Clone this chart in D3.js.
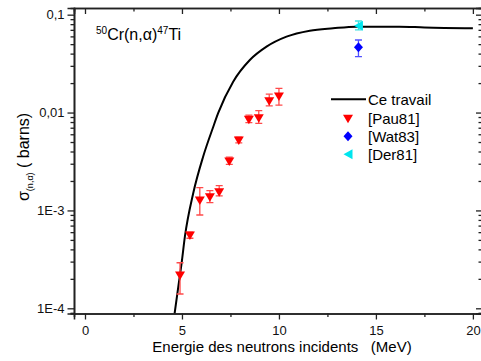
<!DOCTYPE html>
<html>
<head>
<meta charset="utf-8">
<script src="https://cdn.jsdelivr.net/npm/d3@7"></script>
<style>
  body { margin: 0; background: #fff; }
  svg { display: block; font-family: Arial, "Liberation Sans", sans-serif; }
</style>
</head>
<body>
<div id="chart"></div>
<script>
// "Ce travail" calculated excitation function
const curveEnergy = [4.62, 4.81, 4.98, 5.15, 5.58, 6.09, 6.61, 6.87, 7.64, 8.5, 9.36, 10.39, 11.59, 12.79, 14.0, 16.2, 17.5, 20];
const curveSigma = [8.85e-5, 1.66e-4, 2.88e-4, 5.39e-4, 1.5e-3, 3.54e-3, 7.12e-3, 9.9e-3, 2.066e-2, 3.44e-2, 4.71e-2, 5.96e-2, 6.86e-2, 7.26e-2, 7.54e-2, 7.54e-2, 7.4e-2, 7.26e-2];

// [Pau81]
const pauEnergy = [4.9, 5.41, 5.92, 6.44, 6.92, 7.44, 7.93, 8.45, 8.96, 9.5, 10.0];
const pauSigma = [2.19e-4, 5.61e-4, 1.28e-3, 1.38e-3, 1.55e-3, 3.2e-3, 5.25e-3, 8.53e-3, 8.86e-3, 1.32e-2, 1.48e-2];
const pauHigh = [2.92e-4, 6.0e-4, 1.71e-3, 1.59e-3, 1.79e-3, 3.5e-3, 5.6e-3, 9.4e-3, 1.045e-2, 1.54e-2, 1.77e-2];
const pauLow = [1.4e-4, 5.2e-4, 8.98e-4, 1.2e-3, 1.41e-3, 2.95e-3, 4.9e-3, 7.9e-3, 7.77e-3, 1.17e-2, 1.19e-2];

// [Wat83]
const watEnergy = [14.1];
const watSigma = [0.0464];
const watHigh = [0.0551];
const watLow = [0.0372];

// [Der81]
const derEnergy = [14.1];
const derSigma = [0.0772];
const derHigh = [0.0862];
const derLow = [0.0698];

const xMajor = [0, 5, 10, 15, 20];
const xMinor = [2.5, 7.5, 12.5, 17.5];
const yMajor = [1e-4, 1e-3, 1e-2, 1e-1];
const yLabels = ["1E-4", "1E-3", "0,01", "0,1"];

const width = 481, height = 361;
const plotLeft = 74, plotRight = 482, plotTop = 8, plotBottom = 313.5;

const svg = d3.select("#chart").append("svg")
    .attr("width", width)
    .attr("height", height);

const x = d3.scaleLinear().domain([-0.567, 20.47]).range([plotLeft, plotRight]);
const y = d3.scaleLog().domain([8.85e-5, 0.117]).range([plotBottom, plotTop]);

let yMinor = [];
for (let dec of [1e-4, 1e-3, 1e-2]) {
    for (let k = 2; k <= 9; k++) yMinor.push(dec * k);
}
yMinor.push(9e-5);

svg.append("defs").append("clipPath").attr("id", "clip")
    .append("rect")
    .attr("x", plotLeft).attr("y", plotTop)
    .attr("width", plotRight - plotLeft).attr("height", plotBottom - plotTop);

const axisColor = "#222";

function styleAxis(g) {
    g.select(".domain").attr("stroke", axisColor).attr("stroke-width", 1.6);
    g.selectAll(".tick line").attr("stroke", axisColor).attr("stroke-width", 1.3);
    g.selectAll(".tick text").attr("fill", "#111").style("font-size", "13px");
}

// bottom
svg.append("g")
    .attr("transform", `translate(0,${plotBottom})`)
    .call(d3.axisBottom(x).tickValues(xMajor).tickSize(6).tickPadding(6).tickFormat(d3.format("d")))
    .call(styleAxis);
svg.append("g")
    .attr("transform", `translate(0,${plotBottom})`)
    .call(d3.axisBottom(x).tickValues(xMinor).tickSize(3.5).tickFormat(""))
    .call(styleAxis);

// top, ticks pointing inward
svg.append("g")
    .attr("transform", `translate(0,${plotTop})`)
    .call(d3.axisTop(x).tickValues(xMajor).tickSize(-6).tickFormat(""))
    .call(styleAxis);
svg.append("g")
    .attr("transform", `translate(0,${plotTop})`)
    .call(d3.axisTop(x).tickValues(xMinor).tickSize(-3.5).tickFormat(""))
    .call(styleAxis);

// left
svg.append("g")
    .attr("transform", `translate(${plotLeft},0)`)
    .call(d3.axisLeft(y).tickValues(yMajor).tickSize(6.5).tickPadding(3)
        .tickFormat((d, i) => yLabels[i]))
    .call(styleAxis);
svg.append("g")
    .attr("transform", `translate(${plotLeft},0)`)
    .call(d3.axisLeft(y).tickValues(yMinor).tickSize(3.5).tickFormat(""))
    .call(styleAxis);

// right, mostly outside the picture
svg.append("g")
    .attr("transform", `translate(${plotRight},0)`)
    .call(d3.axisRight(y).tickValues(yMajor).tickSize(-6).tickFormat(""))
    .call(styleAxis);
svg.append("g")
    .attr("transform", `translate(${plotRight},0)`)
    .call(d3.axisRight(y).tickValues(yMinor).tickSize(-3.5).tickFormat(""))
    .call(styleAxis);

const plot = svg.append("g").attr("clip-path", "url(#clip)");

// calculated curve
const line = d3.line()
    .x(d => x(d[0]))
    .y(d => y(d[1]))
    .curve(d3.curveMonotoneX);

plot.append("path")
    .datum(d3.zip(curveEnergy, curveSigma))
    .attr("d", line)
    .attr("fill", "none")
    .attr("stroke", "#000")
    .attr("stroke-width", 2);

const triDown = "M-5,-3.5L5,-3.5L0,5Z";
const triLeft = "M-4.5,0L4.5,-5L4.5,5Z";
const diamond = "M0,-5L4.5,0L0,5L-4.5,0Z";

function drawSeries(energy, sigma, lo, hi, shape, color, errColor) {
    let data = energy.map((e, i) => ({e: e, s: sigma[i], lo: lo[i], hi: hi[i]}));
    let g = plot.append("g");
    let err = g.append("g")
        .attr("stroke", errColor)
        .attr("stroke-width", 1.3)
        .selectAll("g")
        .data(data)
        .join("g");
    err.append("line")
        .attr("x1", d => x(d.e)).attr("x2", d => x(d.e))
        .attr("y1", d => y(d.hi)).attr("y2", d => y(d.lo));
    err.append("line")
        .attr("x1", d => x(d.e) - 3.5).attr("x2", d => x(d.e) + 3.5)
        .attr("y1", d => y(d.hi)).attr("y2", d => y(d.hi));
    err.append("line")
        .attr("x1", d => x(d.e) - 3.5).attr("x2", d => x(d.e) + 3.5)
        .attr("y1", d => y(d.lo)).attr("y2", d => y(d.lo));
    g.selectAll("path.mark")
        .data(data)
        .join("path")
        .attr("class", "mark")
        .attr("d", shape)
        .attr("transform", d => `translate(${x(d.e)},${y(d.s)})`)
        .attr("fill", color);
}

drawSeries(pauEnergy, pauSigma, pauLow, pauHigh, triDown, "#ff0000", "#ff4a4a");
drawSeries(watEnergy, watSigma, watLow, watHigh, diamond, "#0000ff", "#5050ff");
drawSeries(derEnergy, derSigma, derLow, derHigh, triLeft, "#00e5ee", "#40e0e0");

// reaction label
const ann = svg.append("text")
    .attr("x", 96)
    .attr("y", 39.5)
    .style("font-size", "16px")
    .attr("fill", "#000");
ann.append("tspan").text("50").style("font-size", "10px").attr("dy", "-6");
ann.append("tspan").text("Cr(n,α)").attr("dy", "6");
ann.append("tspan").text("47").style("font-size", "10px").attr("dy", "-6");
ann.append("tspan").text("Ti").attr("dy", "6");

// legend
const legend = svg.append("g").style("font-size", "15px");
const rows = [99.3, 118.3, 136.3, 154.3];
legend.append("line")
    .attr("x1", 331).attr("x2", 366)
    .attr("y1", rows[0]).attr("y2", rows[0])
    .attr("stroke", "#000").attr("stroke-width", 2);
legend.append("path").attr("d", triDown).attr("fill", "#ff0000")
    .attr("transform", `translate(348,${rows[1]})`);
legend.append("path").attr("d", diamond).attr("fill", "#0000ff")
    .attr("transform", `translate(348,${rows[2]})`);
legend.append("path").attr("d", triLeft).attr("fill", "#00e5ee")
    .attr("transform", `translate(348,${rows[3]})`);
legend.selectAll("text")
    .data(["Ce travail", "[Pau81]", "[Wat83]", "[Der81]"])
    .join("text")
    .attr("x", 368)
    .attr("y", (d, i) => rows[i] + 5.5)
    .attr("fill", "#000")
    .text(d => d);

// axis titles
svg.append("text")
    .attr("x", 282)
    .attr("y", 352)
    .attr("text-anchor", "middle")
    .style("font-size", "15px")
    .style("white-space", "pre")
    .attr("fill", "#000")
    .text("Energie des neutrons incidents   (MeV)");

const yt = svg.append("text")
    .attr("transform", "translate(29,201) rotate(-90)")
    .style("font-size", "16px")
    .style("white-space", "pre")
    .attr("fill", "#000");
yt.append("tspan").text("σ");
yt.append("tspan").text("(n,α)").style("font-size", "9px").attr("dy", "4");
yt.append("tspan").text(" ( barns)").attr("dy", "-4");
</script>
</body>
</html>
